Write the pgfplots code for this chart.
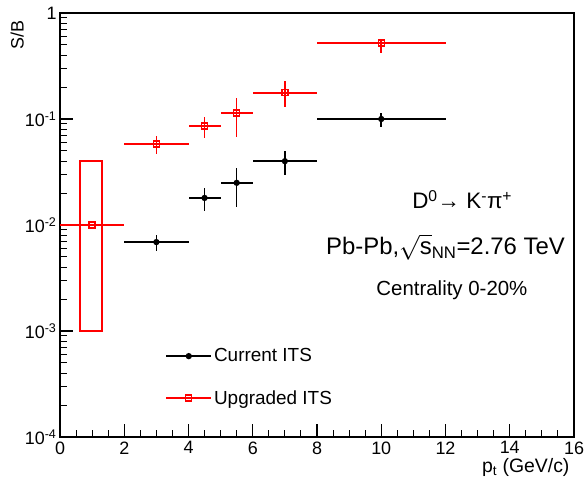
\documentclass[border=0pt]{standalone}
\usepackage{pgfplots}
\pgfplotsset{compat=1.18}
\usepackage{fontspec}
\setmainfont{Liberation Sans}
\begin{document}
\begin{tikzpicture}
\useasboundingbox (-60bp,-46bp) rectangle (525bp,437bp);
\begin{axis}[
  at={(0,0)}, anchor=south west,
  scale only axis, width=514bp, height=424bp,
  ymode=log, xmin=0, xmax=16, ymin=1e-4, ymax=1,
  axis line style={line width=1.3bp},
  every tick/.style={black, line width=1.1bp},
  major tick length=13bp, minor tick length=7bp,
  tick align=inside, xtick pos=left, ytick pos=left,
  xtick={0,2,...,16}, minor x tick num=3,
  ytick={1e-4,1e-3,1e-2,1e-1,1},
  yticklabels={10\textsuperscript{-4},10\textsuperscript{-3},10\textsuperscript{-2},10\textsuperscript{-1},1},
  /pgf/number format/assume math mode=true,
  tick label style={font=\fontsize{18}{20}\selectfont},
  xticklabel style={yshift=-1bp},
  clip=false,
  legend style={draw=none, fill=none, at={(axis description cs:0.199,0.064)}, anchor=south west,
    font=\fontsize{19}{21}\selectfont, row sep=23bp, legend cell align=left},
  legend image code/.code={\draw[#1,sharp plot,mark repeat=2,mark phase=2] plot coordinates {(0bp,0bp)(22.5bp,0bp)(45bp,0bp)};},
]
\addplot[black, line width=1.6bp, mark=*, mark size=2.3bp, only marks,
  error bars/.cd, x dir=both, x explicit, y dir=both, y explicit,
  error bar style={line width=1.6bp}, error mark=none]
  table[x=x, y=y, x error plus=xp, x error minus=xm, y error plus=yp, y error minus=ym] {
x y xm xp yp ym
3 0.0069 1 1 0.0012 0.0012
4.5 0.018 0.5 0.5 0.0043 0.0045
5.5 0.025 0.5 0.5 0.0096 0.0102
7 0.040 1 1 0.010 0.0104
10 0.100 2 2 0.014 0.016
};
\addlegendentry{Current ITS}
\addplot[red, line width=1.6bp, mark=square, mark size=3bp, mark options={fill=white, line width=1.3bp}, only marks,
  error bars/.cd, x dir=both, x explicit, y dir=both, y explicit,
  error bar style={line width=1.6bp}, error mark=none]
  table[x=x, y=y, x error plus=xp, x error minus=xm, y error plus=yp, y error minus=ym] {
x y xm xp yp ym
1 0.010 1 1 0 0
3 0.058 1 1 0.011 0.011
4.5 0.086 0.5 0.5 0.018 0.020
5.5 0.114 0.5 0.5 0.044 0.046
7 0.177 1 1 0.052 0.047
10 0.52 2 2 0.05 0.10
};
\addlegendentry{Upgraded ITS}
\addplot[red, line width=1.6bp, mark=none, forget plot] coordinates {(0.62,0.001)(1.3,0.001)(1.3,0.04)(0.62,0.04)} -- cycle;
\node[font=\fontsize{22.5}{24}\selectfont] at (axis cs:12.52,0.0173) {D\textsuperscript{0}→ K\textsuperscript{-}π\textsuperscript{+}};
\node[font=\fontsize{24}{26}\selectfont] at (axis cs:12.0,0.0062) {Pb-Pb,$\sqrt{\mbox{s}}$\textsubscript{NN}=2.76 TeV};
\node[font=\fontsize{20.5}{22}\selectfont] at (axis cs:12.2,0.00244) {Centrality 0-20\%};
\node[font=\fontsize{18}{20}\selectfont, rotate=90, anchor=east] at (rel axis cs:-0.083,0.99) {S/B};
\node[font=\fontsize{19.5}{21}\selectfont, anchor=north east] at (rel axis cs:0.998,-0.042) {p\textsubscript{t} (GeV/c)};
\end{axis}
\end{tikzpicture}
\end{document}
